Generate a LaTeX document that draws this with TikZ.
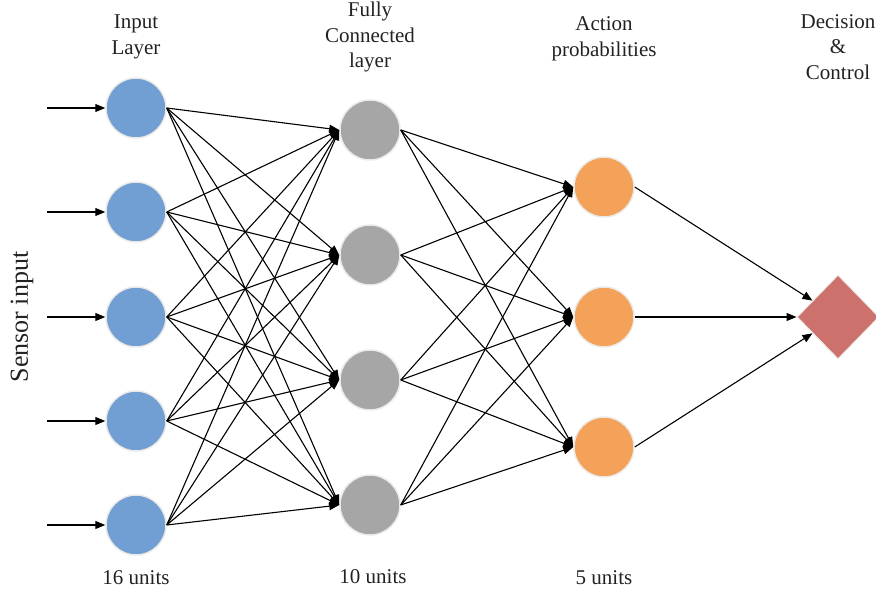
\documentclass[tikz,border=0pt]{standalone}
\usepackage{fontspec}
\setmainfont{Liberation Serif}
\usetikzlibrary{shapes.geometric,arrows.meta}
\definecolor{inblue}{HTML}{719FD3}
\definecolor{hidgray}{HTML}{A5A6A5}
\definecolor{outorange}{HTML}{F4A15A}
\definecolor{decred}{HTML}{CC716B}
\definecolor{rimgray}{HTML}{ECEAE8}
\definecolor{txt}{HTML}{222222}
\tikzset{
  neuron/.style={circle, minimum size=60pt, inner sep=0pt, draw=rimgray, line width=1.5pt},
  inneuron/.style={neuron, fill=inblue},
  hidneuron/.style={neuron, fill=hidgray},
  outneuron/.style={neuron, fill=outorange},
  decbox/.style={diamond, minimum width=82pt, minimum height=84pt, inner sep=0pt, fill=decred, draw=rimgray, line width=1pt},
  conn/.style={-{Triangle[length=10pt,width=8pt]}, line width=1.1pt, black},
  lbl/.style={align=center, text=txt, font=\fontsize{21}{25.5}\selectfont, inner sep=0pt}
}
\begin{document}
\begin{tikzpicture}[x=1pt,y=-1pt]
\useasboundingbox (0,0) rectangle (876,593);
% input layer
\foreach \i/\y in {1/108,2/212,3/317,4/421,5/525}{
  \node[inneuron] (i\i) at (136,\y) {};
  \coordinate (s\i) at (47,\y);
}
% hidden layer
\foreach \j/\y in {1/130,2/255,3/380,4/505}{
  \node[hidneuron] (h\j) at (370,\y) {};
}
% output layer
\foreach \k/\y in {1/187,2/317,3/447}{
  \node[outneuron] (o\k) at (604,\y) {};
}
\node[decbox] (d) at (838,317) {};
% connectors
\foreach \i in {1,...,5}{
  \draw[conn] (s\i) -- (i\i.west);
  \foreach \j in {1,...,4}{
    \draw[conn] (i\i.east) -- (h\j.west);
  }
}
\foreach \j in {1,...,4}{
  \foreach \k in {1,...,3}{
    \draw[conn] (h\j.east) -- (o\k.west);
  }
}
\foreach \k in {1,...,3}{
  \draw[conn] (o\k.east) -- (d);
}
% labels
\node[lbl] (tin) at (136,37) {Input\\Layer};
\node[lbl] (thid) at (370,37) {Fully\\Connected\\layer};
\node[lbl] (tout) at (604,39) {Action\\probabilities};
\node[lbl] (tdec) at (838,47) {Decision\\\&\\Control};
\node[lbl] (uin) at (136,578) {16 units};
\node[lbl] (uhid) at (373,577) {10 units};
\node[lbl] (uout) at (604,578) {5 units};
\node[lbl, rotate=90, font=\fontsize{26}{30}\selectfont] (sens) at (22,317) {Sensor input};
\end{tikzpicture}
\end{document}
